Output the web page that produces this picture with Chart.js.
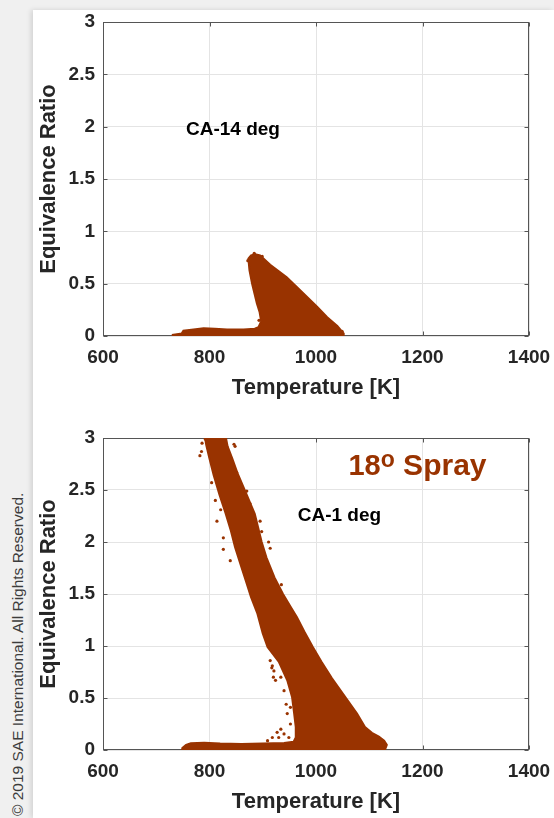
<!DOCTYPE html>
<html lang="en">
<head>
<meta charset="UTF-8">
<title>Equivalence Ratio vs Temperature</title>
<script src="https://cdn.jsdelivr.net/npm/chart.js"></script>
<style>
  body {
    margin: 0;
    width: 554px;
    height: 818px;
    overflow: hidden;
    position: relative;
    background: #f0f0f0;
    font-family: 'Liberation Sans', Arial, sans-serif;
  }
  .panel {
    position: absolute;
    left: 33px;
    top: 10px;
    width: 521px;
    height: 808px;
    background: #fff;
    box-shadow: -2px 0 5px rgba(0, 0, 0, 0.13);
  }
  canvas { position: absolute; left: 0; }
  #chart1 { top: 0; }
  #chart2 { top: 410px; }
  .copy {
    position: absolute;
    left: 0;
    top: 0;
    width: 360px;
    white-space: nowrap;
    font-size: 15.5px;
    line-height: 18px;
    color: #3c3c3c;
    transform-origin: 0 0;
    transform: translate(9px, 816px) rotate(-90deg);
  }
</style>
</head>
<body>
<div class="panel"></div>
<div class="copy">&copy; 2019 SAE International. All Rights Reserved.</div>
<canvas id="chart1" width="554" height="410"></canvas>
<canvas id="chart2" width="554" height="408"></canvas>

<script>
// axis ticks
const tempTicks = [600, 800, 1000, 1200, 1400];
const phiTicks = [0, 0.5, 1, 1.5, 2, 2.5, 3];

// CA-14 deg: outline of the dense point cloud [T, phi]
const ca14Outline = [
  [731, -0.012], [731, 0.012], [748, 0.025], [751, 0.05], [770, 0.063], [789, 0.073],
  [810, 0.07], [833, 0.063], [864, 0.063], [885, 0.07], [892, 0.085], [897, 0.14],
  [894, 0.23], [889, 0.31], [880, 0.50], [875, 0.63], [873, 0.74], [878, 0.77],
  [886, 0.78], [895, 0.77], [914, 0.68], [945, 0.56], [977, 0.405], [1002, 0.28],
  [1021, 0.18], [1040, 0.095], [1051, 0.03], [1052, 0], [1050, -0.012]
];
const ca14Dots = [
  [884, 0.79], [872, 0.72], [899, 0.76], [893, 0.15], [1049, 0.045]
];

// CA-1 deg: outline of the dense point cloud [T, phi]
const ca1Outline = [
  [748, -0.015], [749, 0.02], [756, 0.05], [765, 0.066], [790, 0.07], [820, 0.062],
  [860, 0.058], [900, 0.062], [940, 0.068], [958, 0.08], [962, 0.12], [962, 0.22],
  [959, 0.35], [955, 0.51], [946, 0.67], [930, 0.85], [909, 0.99], [900, 1.12],
  [890, 1.31], [878, 1.47], [868, 1.63], [858, 1.79], [848, 1.95], [840, 2.11],
  [830, 2.28], [819, 2.45], [808, 2.64], [800, 2.80], [794, 2.93], [790, 3.05],
  [829, 3.05], [834, 2.92], [843, 2.80], [852, 2.67], [866, 2.50], [885, 2.27],
  [898, 2.00], [907, 1.85], [922, 1.66], [938, 1.50], [952, 1.38], [964, 1.28],
  [978, 1.14], [994, 0.99], [1010, 0.85], [1030, 0.69], [1059, 0.48], [1077, 0.35],
  [1092, 0.22], [1105, 0.165], [1118, 0.13], [1128, 0.09], [1133, 0.05], [1130, 0.01],
  [1122, -0.015]
];
// scattered points outside the dense band
const ca1Dots = [
  [782, 2.83], [785, 2.87], [846, 2.94], [848, 2.92], [851, 2.67], [804, 2.57],
  [811, 2.40], [814, 2.20], [826, 2.04], [826, 1.93], [839, 1.82], [876, 2.37],
  [895, 2.20], [898, 2.10], [911, 2.00], [914, 1.94], [914, 1.66], [927, 1.15],
  [914, 0.86], [917, 0.79], [920, 0.70], [921, 0.76], [918, 0.81], [924, 0.67],
  [934, 0.70], [940, 0.57], [952, 0.41], [946, 0.35], [944, 0.44], [934, 0.20],
  [940, 0.155], [918, 0.12], [909, 0.09], [952, 0.25], [927, 0.17], [949, 0.12],
  [930, 0.12], [935, 1.59], [786, 2.95], [792, 2.99], [870, 2.49], [821, 2.31]
];

const brown = '#993300';
const ink = '#262626';
const fontFamily = "'Liberation Sans', Arial, sans-serif";

const toXY = arr => arr.map(p => ({x: p[0], y: p[1]}));

// box, inward tick marks and text labels
const framePlugin = {
  id: 'frame',
  beforeDatasetsDraw(chart) {
    const {ctx, chartArea: a, scales: {x, y}} = chart;
    const l = Math.round(a.left) + 0.5, r = Math.round(a.right) - 0.5;
    const t = Math.round(a.top) + 0.5, b = Math.round(a.bottom) - 0.5;
    ctx.save();
    ctx.strokeStyle = '#555';
    ctx.lineWidth = 1;
    ctx.strokeRect(l, t, r - l, b - t);
    ctx.beginPath();
    tempTicks.forEach(v => {
      const px = Math.round(x.getPixelForValue(v)) + 0.5;
      ctx.moveTo(px, b); ctx.lineTo(px, b - 4);
      ctx.moveTo(px, t); ctx.lineTo(px, t + 4);
    });
    phiTicks.forEach(v => {
      const py = Math.round(y.getPixelForValue(v)) + 0.5;
      ctx.moveTo(l, py); ctx.lineTo(l + 4, py);
      ctx.moveTo(r, py); ctx.lineTo(r - 4, py);
    });
    ctx.stroke();
    ctx.restore();
  },
  afterDatasetsDraw(chart, args, opts) {
    const {ctx, scales: {x, y}} = chart;
    (opts.notes || []).forEach(n => {
      let px = x.getPixelForValue(n.x);
      const py = y.getPixelForValue(n.y);
      ctx.save();
      ctx.fillStyle = n.color;
      ctx.textBaseline = 'alphabetic';
      if (n.align === 'center') {
        ctx.font = 'bold ' + n.parts[0].size + 'px ' + fontFamily;
        px -= ctx.measureText(n.parts[0].t).width / 2;
      }
      ctx.textAlign = 'left';
      n.parts.forEach(p => {
        ctx.font = 'bold ' + p.size + 'px ' + fontFamily;
        ctx.fillText(p.t, px, py - (p.rise || 0));
        px += ctx.measureText(p.t).width;
      });
      ctx.restore();
    });
  }
};

function makeChart(id, outline, dots, notes, padTop, axisH, titlePadB) {
  new Chart(document.getElementById(id), {
    type: 'scatter',
    data: {
      datasets: [
        {
          type: 'line',
          data: toXY(outline),
          borderColor: brown,
          backgroundColor: brown,
          borderWidth: 2,
          pointRadius: 0,
          tension: 0,
          fill: 'shape'
        },
        {
          data: toXY(dots),
          backgroundColor: brown,
          borderWidth: 0,
          pointRadius: 1.6
        }
      ]
    },
    options: {
      responsive: false,
      animation: false,
      devicePixelRatio: 1,
      layout: {padding: {top: padTop, right: 25, left: 0, bottom: 0}},
      plugins: {
        legend: {display: false},
        tooltip: {enabled: false},
        frame: {notes: notes}
      },
      scales: {
        x: {
          type: 'linear',
          min: 600,
          max: 1400,
          afterBuildTicks: s => { s.ticks = tempTicks.map(v => ({value: v})); },
          afterFit: s => {
            s.height = axisH;
            // keep the plot box fixed; the last label just fits in the margin
            s.paddingLeft = 0;
            s.paddingRight = 20;
          },
          grid: {color: '#e4e4e4', drawTicks: false},
          border: {display: false},
          ticks: {
            padding: 10,
            color: ink,
            font: {family: fontFamily, size: 19, weight: 'bold'},
            maxRotation: 0,
            callback: v => String(v)
          },
          title: {
            display: true,
            text: 'Temperature [K]',
            color: ink,
            font: {family: fontFamily, size: 22, weight: 'bold'},
            padding: {top: 0, bottom: titlePadB}
          }
        },
        y: {
          min: 0,
          max: 3,
          afterBuildTicks: s => { s.ticks = phiTicks.map(v => ({value: v})); },
          afterFit: s => { s.width = 103; },
          grid: {color: '#e4e4e4', drawTicks: false},
          border: {display: false},
          ticks: {
            padding: 8,
            color: ink,
            font: {family: fontFamily, size: 19, weight: 'bold'},
            callback: v => String(v)
          },
          title: {
            display: true,
            text: 'Equivalence Ratio',
            color: ink,
            font: {family: fontFamily, size: 22, weight: 'bold'},
            padding: {top: 36, bottom: 0}
          }
        }
      }
    },
    plugins: [framePlugin]
  });
}

makeChart('chart1', ca14Outline, ca14Dots,
  [{x: 844, y: 1.92, color: '#000', align: 'center', parts: [{t: 'CA-14 deg', size: 19}]}],
  22, 74, 9);

makeChart('chart2', ca1Outline, ca1Dots,
  [
    {x: 1044, y: 2.2, color: '#000', align: 'center', parts: [{t: 'CA-1 deg', size: 19}]},
    {x: 1061, y: 2.64, color: brown, align: 'left', parts: [
      {t: '18', size: 29}, {t: 'o', size: 23, rise: 8}, {t: ' Spray', size: 30}
    ]}
  ],
  28, 68, 3);
</script>
</body>
</html>
